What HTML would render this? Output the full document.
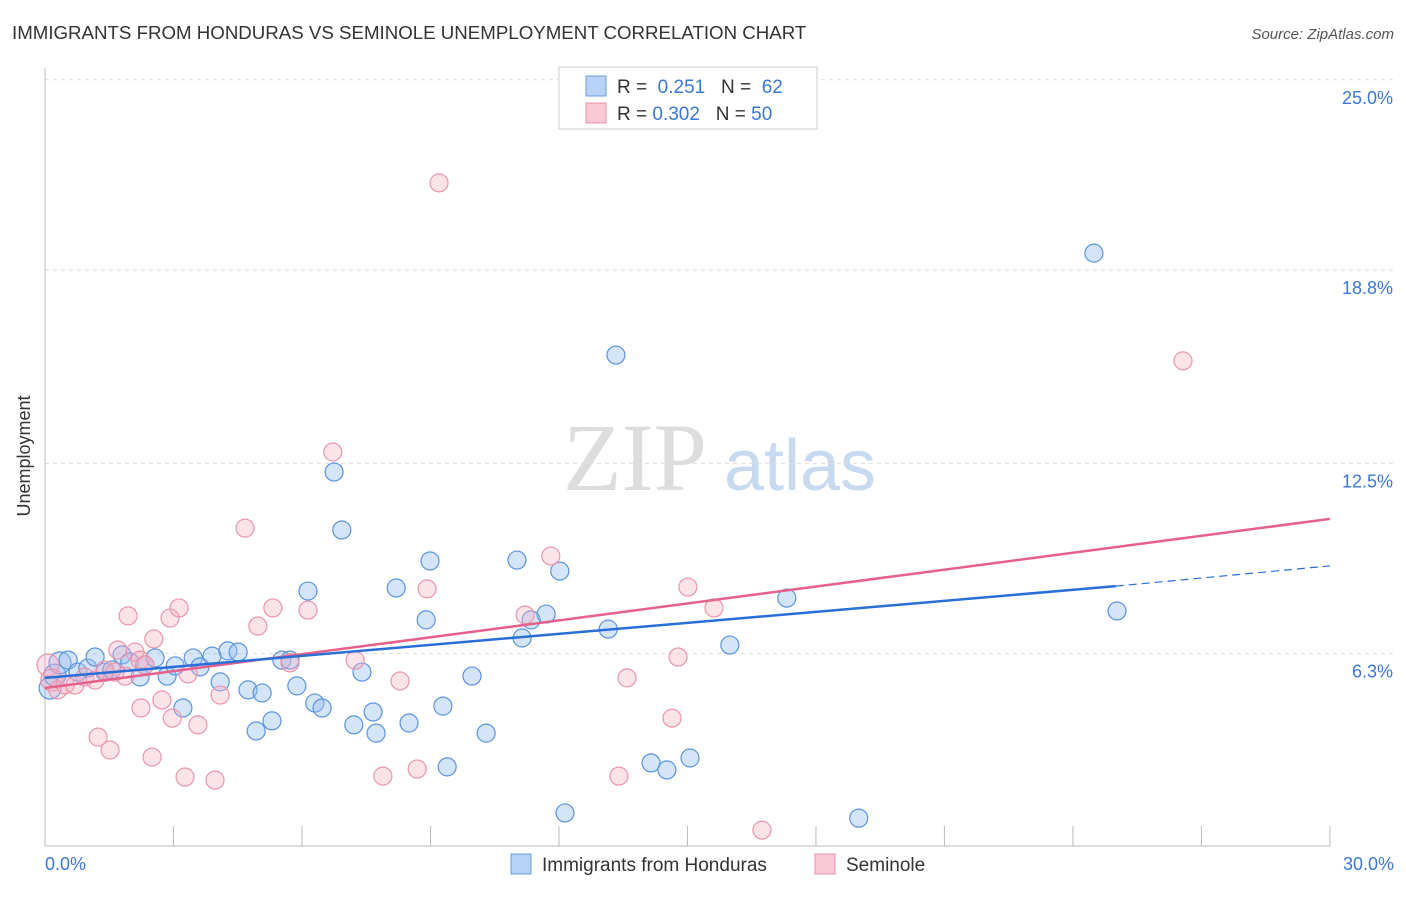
<!DOCTYPE html>
<html><head><meta charset="utf-8"><style>
body{margin:0;background:#fff;font-family:"Liberation Sans",sans-serif;}
</style></head><body>
<svg width="1406" height="892" xmlns="http://www.w3.org/2000/svg" id="chart" font-family="Liberation Sans, sans-serif">
<text x="12" y="39" font-size="18.7" fill="#333">IMMIGRANTS FROM HONDURAS VS SEMINOLE UNEMPLOYMENT CORRELATION CHART</text>
<text x="1394" y="39" font-size="15" fill="#555" font-style="italic" text-anchor="end">Source: ZipAtlas.com</text>
<text x="30" y="456" font-size="18" fill="#333" transform="rotate(-90 30 456)" text-anchor="middle">Unemployment</text>
<g><text x="635" y="490" font-size="96" fill="#ddd" font-family="Liberation Serif, serif" text-anchor="middle">ZIP</text><text x="800" y="490" font-size="72" fill="#c8daf0" text-anchor="middle">atlas</text></g>
<g id="grid"></g><g id="axes"></g><g id="marks"></g>
<g>
<rect x="559" y="67" width="258" height="62" fill="#fff" stroke="#ccc"/>
<rect x="586" y="76" width="20" height="20" fill="#b8d2f5" stroke="#6a9ee0"/>
<rect x="586" y="103" width="20" height="20" fill="#f9c9d6" stroke="#e890aa"/>
<text x="617" y="93" font-size="19" fill="#333">R = <tspan fill="#3a78d4">&#160;0.251</tspan>&#160;&#160;&#160;N = <tspan fill="#3a78d4">&#160;62</tspan></text>
<text x="617" y="120" font-size="19" fill="#333">R = <tspan fill="#3a78d4">0.302</tspan>&#160;&#160;&#160;N = <tspan fill="#3a78d4">50</tspan></text>
</g>
<g>
<rect x="511" y="854" width="20" height="20" fill="#b8d2f5" stroke="#6a9ee0"/>
<text x="542" y="871" font-size="19" fill="#333">Immigrants from Honduras</text>
<rect x="815" y="854" width="20" height="20" fill="#f9c9d6" stroke="#e890aa"/>
<text x="846" y="871" font-size="19" fill="#333">Seminole</text>
</g>
</svg>
<script>
const blueX=[0.12,0.23,0.35,0.54,0.77,1.0,1.17,1.4,1.56,1.8,1.98,2.22,2.33,2.57,2.85,3.04,3.22,3.46,3.62,3.9,4.09,4.27,4.51,4.74,4.93,5.07,5.3,5.53,5.72,5.88,6.14,6.3,6.47,6.75,6.93,7.21,7.4,7.66,7.73,8.2,8.5,8.9,8.99,9.29,9.39,9.97,10.3,11.02,11.14,11.35,11.7,12.02,12.14,13.15,13.33,14.15,14.52,15.06,15.99,17.32,19.0,24.49,25.03];
const blueY=[5.18,5.6,6.0,6.09,5.7,5.83,6.19,5.7,5.77,6.26,6.03,5.54,5.93,6.16,5.57,5.9,4.53,6.16,5.87,6.22,5.38,6.39,6.35,5.12,3.78,5.02,4.11,6.09,6.09,5.25,8.34,4.69,4.53,12.22,10.33,3.98,5.7,4.4,3.71,8.44,4.04,7.4,9.32,4.59,2.61,5.57,3.71,9.35,6.81,7.4,7.59,8.99,1.11,7.1,16.03,2.74,2.51,2.9,6.58,8.11,0.94,19.35,7.69];
const pinkX=[0.07,0.16,0.3,0.47,0.7,0.93,1.17,1.4,1.63,1.7,1.87,1.94,2.1,2.22,2.33,2.24,2.54,2.73,2.92,2.97,3.13,3.27,3.34,3.57,3.97,4.09,4.67,4.97,5.32,5.72,6.14,6.72,7.24,7.89,8.29,8.69,8.92,9.2,11.21,11.81,13.4,13.59,14.64,14.78,15.01,15.62,16.74,26.57,1.24,1.52,2.5];
const pinkY=[5.93,5.44,5.12,5.28,5.28,5.54,5.44,5.77,5.7,6.42,5.57,7.53,6.35,6.09,5.93,4.53,6.78,4.79,7.46,4.2,7.79,2.28,5.64,3.98,2.18,4.95,10.39,7.2,7.79,6.0,7.72,12.87,6.09,2.31,5.41,2.54,8.41,21.64,7.56,9.48,2.31,5.51,4.2,6.19,8.47,7.79,0.55,15.84,3.58,3.16,2.93];
const yTicks=[25.0,18.8,12.5,6.3];
const yTickLabels=["25.0%","18.8%","12.5%","6.3%"];
const blueTrend=[5.51,8.5,9.16];
const pinkTrend=[5.18,10.69];
const NS="http://www.w3.org/2000/svg";
const xs=v=>45+v*42.83, ys=v=>847-v*30.69;
function mk(t,a,p){const e=document.createElementNS(NS,t);for(const k in a)e.setAttribute(k,a[k]);document.getElementById(p).appendChild(e);return e;}
yTicks.forEach((t,i)=>{
 const g=mk('line',{x1:45,x2:1394,y1:ys(t),y2:ys(t),stroke:'#ddd','stroke-dasharray':'4,4'},'grid');
 
 
 const l=mk('text',{x:1393,y:ys(t)+24,'font-size':18,fill:'#3a78d4','text-anchor':'end'},'axes');l.textContent=yTickLabels[i];
 
 
});
const ax=mk('line',{x1:45,x2:45,y1:68,y2:846,stroke:'#bbb'},'axes');


const bx=mk('line',{x1:45,x2:1330,y1:846,y2:846,stroke:'#bbb'},'axes');


for(let i=1;i<=10;i++){const t=mk('line',{x1:xs(i*3),x2:xs(i*3),y1:826,y2:846,stroke:'#bbb'},'axes');
 
 }
const x0=mk('text',{x:45,y:870,'font-size':18,fill:'#3a78d4'},'axes');x0.textContent='0.0%';


const x1=mk('text',{x:1394,y:870,'font-size':18,fill:'#3a78d4','text-anchor':'end'},'axes');x1.textContent='30.0%';


blueX.forEach((x,i)=>{const c=mk('circle',{cx:xs(x),cy:ys(blueY[i]),r:i<3?11:9,fill:'rgba(150,190,240,0.4)',stroke:'#5b93de','stroke-width':1.2},'marks');
 
 });
pinkX.forEach((x,i)=>{const c=mk('circle',{cx:xs(x),cy:ys(pinkY[i]),r:i<2?11:9,fill:'rgba(245,175,195,0.35)',stroke:'#e995ad','stroke-width':1.2},'marks');
 
 });
const pl=mk('line',{x1:xs(0),y1:ys(pinkTrend[0]),x2:xs(30),y2:ys(pinkTrend[1]),stroke:'#e5608a','stroke-width':2.5},'marks');


const bl=mk('line',{x1:xs(0),y1:ys(blueTrend[0]),x2:xs(25),y2:ys(blueTrend[1]),stroke:'#2a6fd6','stroke-width':2.5},'marks');


const bd=mk('line',{x1:xs(25),y1:ys(blueTrend[1]),x2:xs(30),y2:ys(blueTrend[2]),stroke:'#2a6fd6','stroke-width':1.2,'stroke-dasharray':'8,5'},'marks');


</script>
</body></html>
